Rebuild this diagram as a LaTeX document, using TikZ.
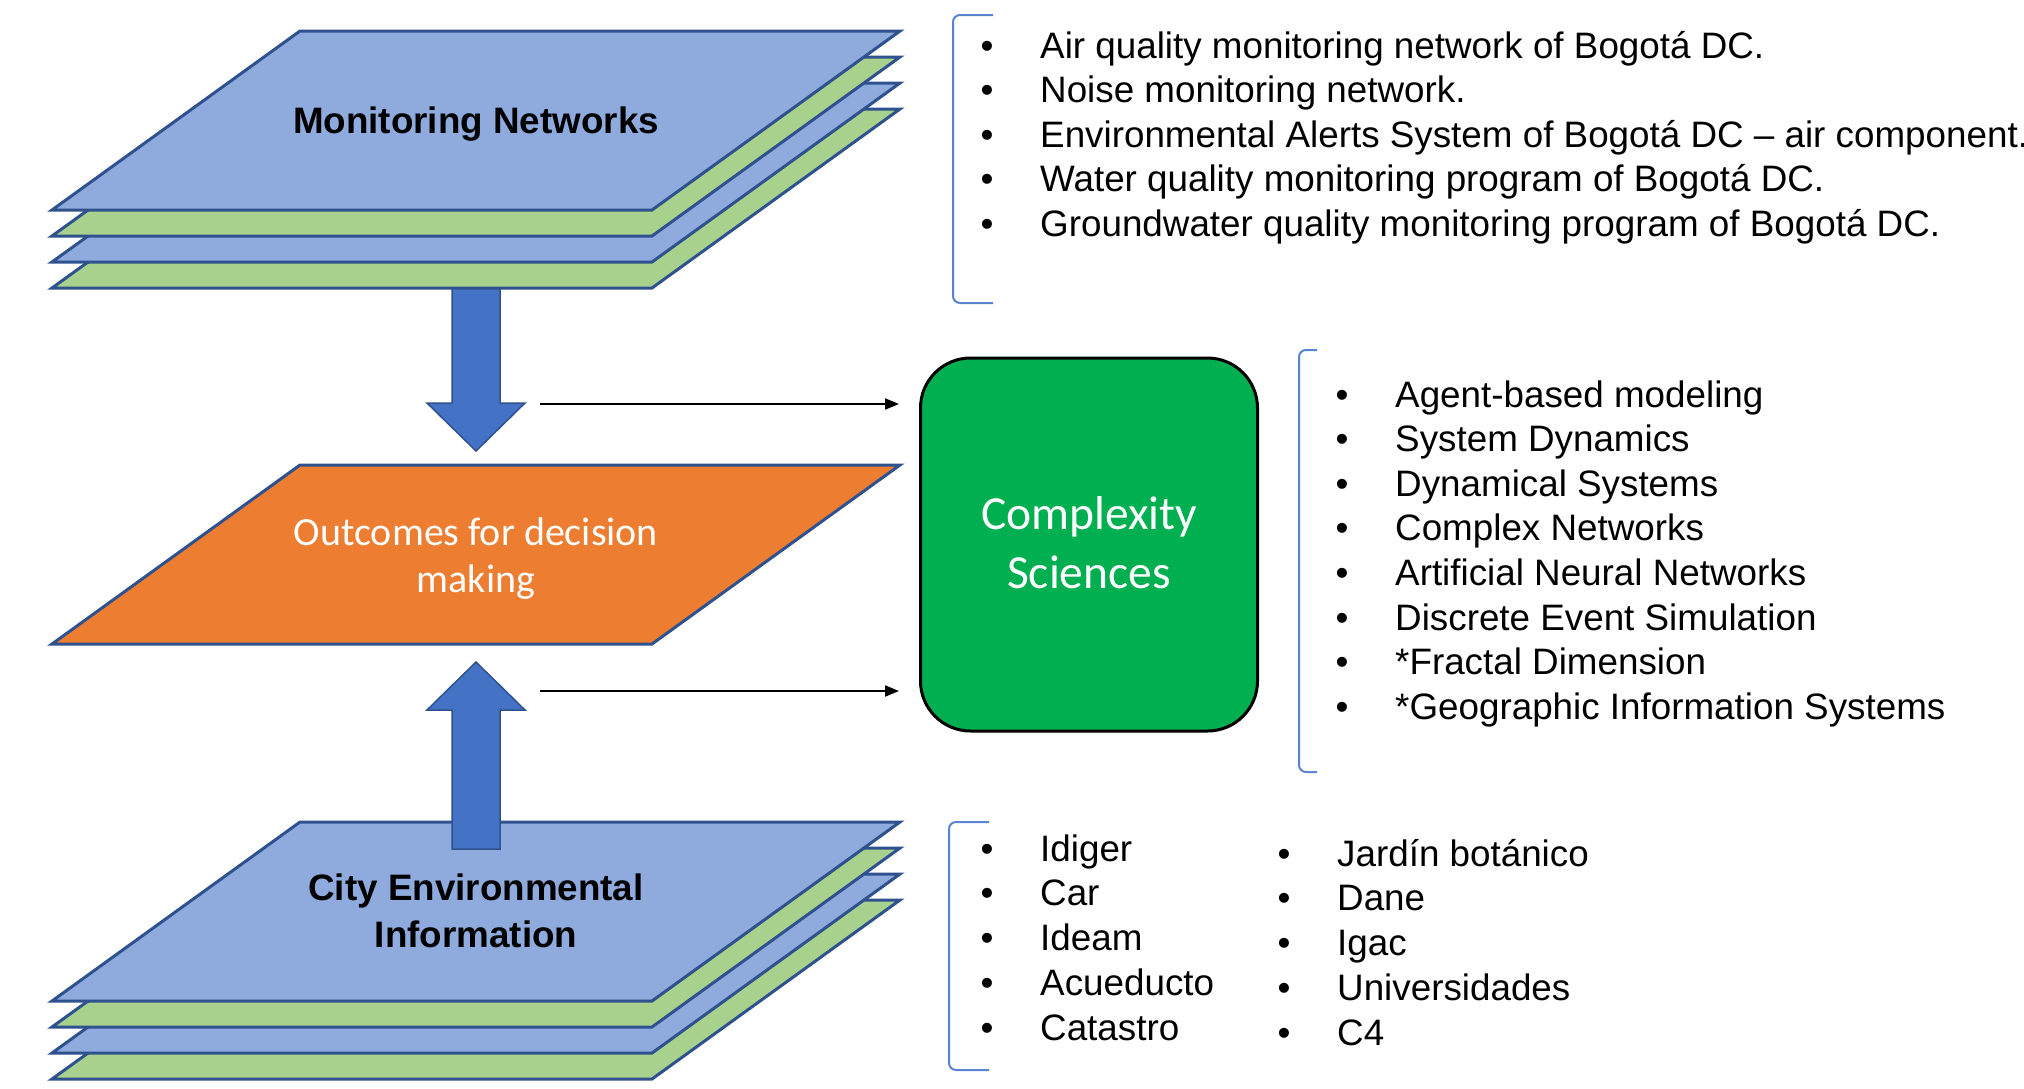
\documentclass[tikz,border=0pt]{standalone}
\usepackage{fontspec}
\setmainfont{Liberation Sans}
\newfontfamily\calfont{Carlito}
\usetikzlibrary{arrows.meta}
\definecolor{layblue}{HTML}{8FAADC}
\definecolor{laygreen}{HTML}{A9D18E}
\definecolor{edgeblue}{HTML}{2F528F}
\definecolor{arrblue}{HTML}{4472C4}
\definecolor{orng}{HTML}{ED7D31}
\definecolor{csgreen}{HTML}{00B050}
\definecolor{brkblue}{HTML}{5B84D0}
\newcommand\plate[2]{\filldraw[plate, fill=#2] (300,#1) -- (900,#1) -- (652,#1+179) -- (52,#1+179) -- cycle;}
\begin{document}
\begin{tikzpicture}[x=1pt,y=-1pt,
  plate/.style={draw=edgeblue, line width=3pt, line join=miter},
  blockarr/.style={fill=arrblue, draw=edgeblue, line width=1.5pt, line join=miter},
  lab/.style={inner sep=0pt, anchor=base, font=\fontsize{36.8}{44}\selectfont\bfseries},
  outtxt/.style={inner sep=0pt, anchor=base, text=white, font=\calfont\fontsize{40}{47}\selectfont},
  cstxt/.style={inner sep=0pt, anchor=base, text=white, font=\calfont\fontsize{47.5}{58}\selectfont},
  bul/.style={inner sep=0pt, anchor=base, font=\fontsize{36.8}{44.5}\selectfont},
  itm/.style={inner sep=0pt, anchor=base west, font=\fontsize{36.8}{44.5}\selectfont},
  brack/.style={draw=brkblue, line width=2pt, rounded corners=7pt},
  thinarr/.style={draw=black, line width=2pt, -{Triangle[length=14pt,width=11pt]}}
]
\clip (0,0) rectangle (2024,1088);
\fill[white] (0,0) rectangle (2024,1088);

% down block arrow (behind the top stack)
\filldraw[blockarr] (452,250) -- (500,250) -- (500,403) -- (525,403) -- (476,451) -- (427,403) -- (452,403) -- cycle;

% top stack
\plate{109}{laygreen}
\plate{83}{layblue}
\plate{57}{laygreen}
\plate{31}{layblue}
\node[lab] (mn) at (476,133) {Monitoring Networks};

% middle plate
\filldraw[plate, fill=orng] (300,465) -- (900,465) -- (652,644) -- (52,644) -- cycle;
\node[outtxt] (out1) at (476,545) {Outcomes for decision};
\node[outtxt] (out2) at (476,592) {making};

% bottom stack
\plate{900}{laygreen}
\plate{874}{layblue}
\plate{848}{laygreen}
\plate{822}{layblue}
\node[lab] (ce1) at (476,900.5) {City Environmental};
\node[lab] (ce2) at (476,947.5) {Information};

% up block arrow (on top of the bottom stack)
\filldraw[blockarr] (452,849) -- (452,710) -- (427,710) -- (476,662) -- (525,710) -- (500,710) -- (500,849) -- cycle;

% complexity sciences box
\node[draw=black, line width=3pt, fill=csgreen, rounded corners=50pt,
      minimum width=337pt, minimum height=373pt, inner sep=0pt] (cs) at (1089,544.5) {};
\node[cstxt] (cs1) at (cs.center |- 0,529) {Complexity};
\node[cstxt] (cs2) at (cs.center |- 0,588) {Sciences};

% thin arrows
\coordinate (h1) at (540,404);
\coordinate (h2) at (540,691);
\draw[thinarr, shorten >=20pt] (h1) -- (h1 -| cs.west);
\draw[thinarr, shorten >=20pt] (h2) -- (h2 -| cs.west);

% brackets
\draw[brack] (993,15) -- (953,15) -- (953,303) -- (993,303);
\draw[brack] (1317,350) -- (1299,350) -- (1299,772) -- (1317,772);
\draw[brack] (989,822) -- (949,822) -- (949,1070) -- (989,1070);

% top list
\foreach \t [count=\i] in {{Air quality monitoring network of Bogotá DC.},
  {Noise monitoring network.},
  {Environmental Alerts System of Bogotá DC – air component.},
  {Water quality monitoring program of Bogotá DC.},
  {Groundwater quality monitoring program of Bogotá DC.}}{
  \node[bul] (ba\i) at (987,{58+44.5*(\i-1)}) {•};
  \node[itm] (ta\i) at (1040,{58+44.5*(\i-1)}) {\t};
}

% middle list
\foreach \t [count=\i] in {{Agent-based modeling},{System Dynamics},{Dynamical Systems},
  {Complex Networks},{Artificial Neural Networks},{Discrete Event Simulation},
  {*Fractal Dimension},{*Geographic Information Systems}}{
  \node[bul] (bb\i) at (1342,{407+44.6*(\i-1)}) {•};
  \node[itm] (tb\i) at (1395,{407+44.6*(\i-1)}) {\t};
}

% bottom lists
\foreach \t [count=\i] in {Idiger,Car,Ideam,Acueducto,Catastro}{
  \node[bul] (bc\i) at (987,{861+44.8*(\i-1)}) {•};
  \node[itm] (tc\i) at (1040,{861+44.8*(\i-1)}) {\t};
}
\foreach \t [count=\i] in {{Jardín botánico},Dane,Igac,Universidades,C4}{
  \node[bul] (bd\i) at (1284,{866+44.8*(\i-1)}) {•};
  \node[itm] (td\i) at (1337,{866+44.8*(\i-1)}) {\t};
}
\end{tikzpicture}
\end{document}
